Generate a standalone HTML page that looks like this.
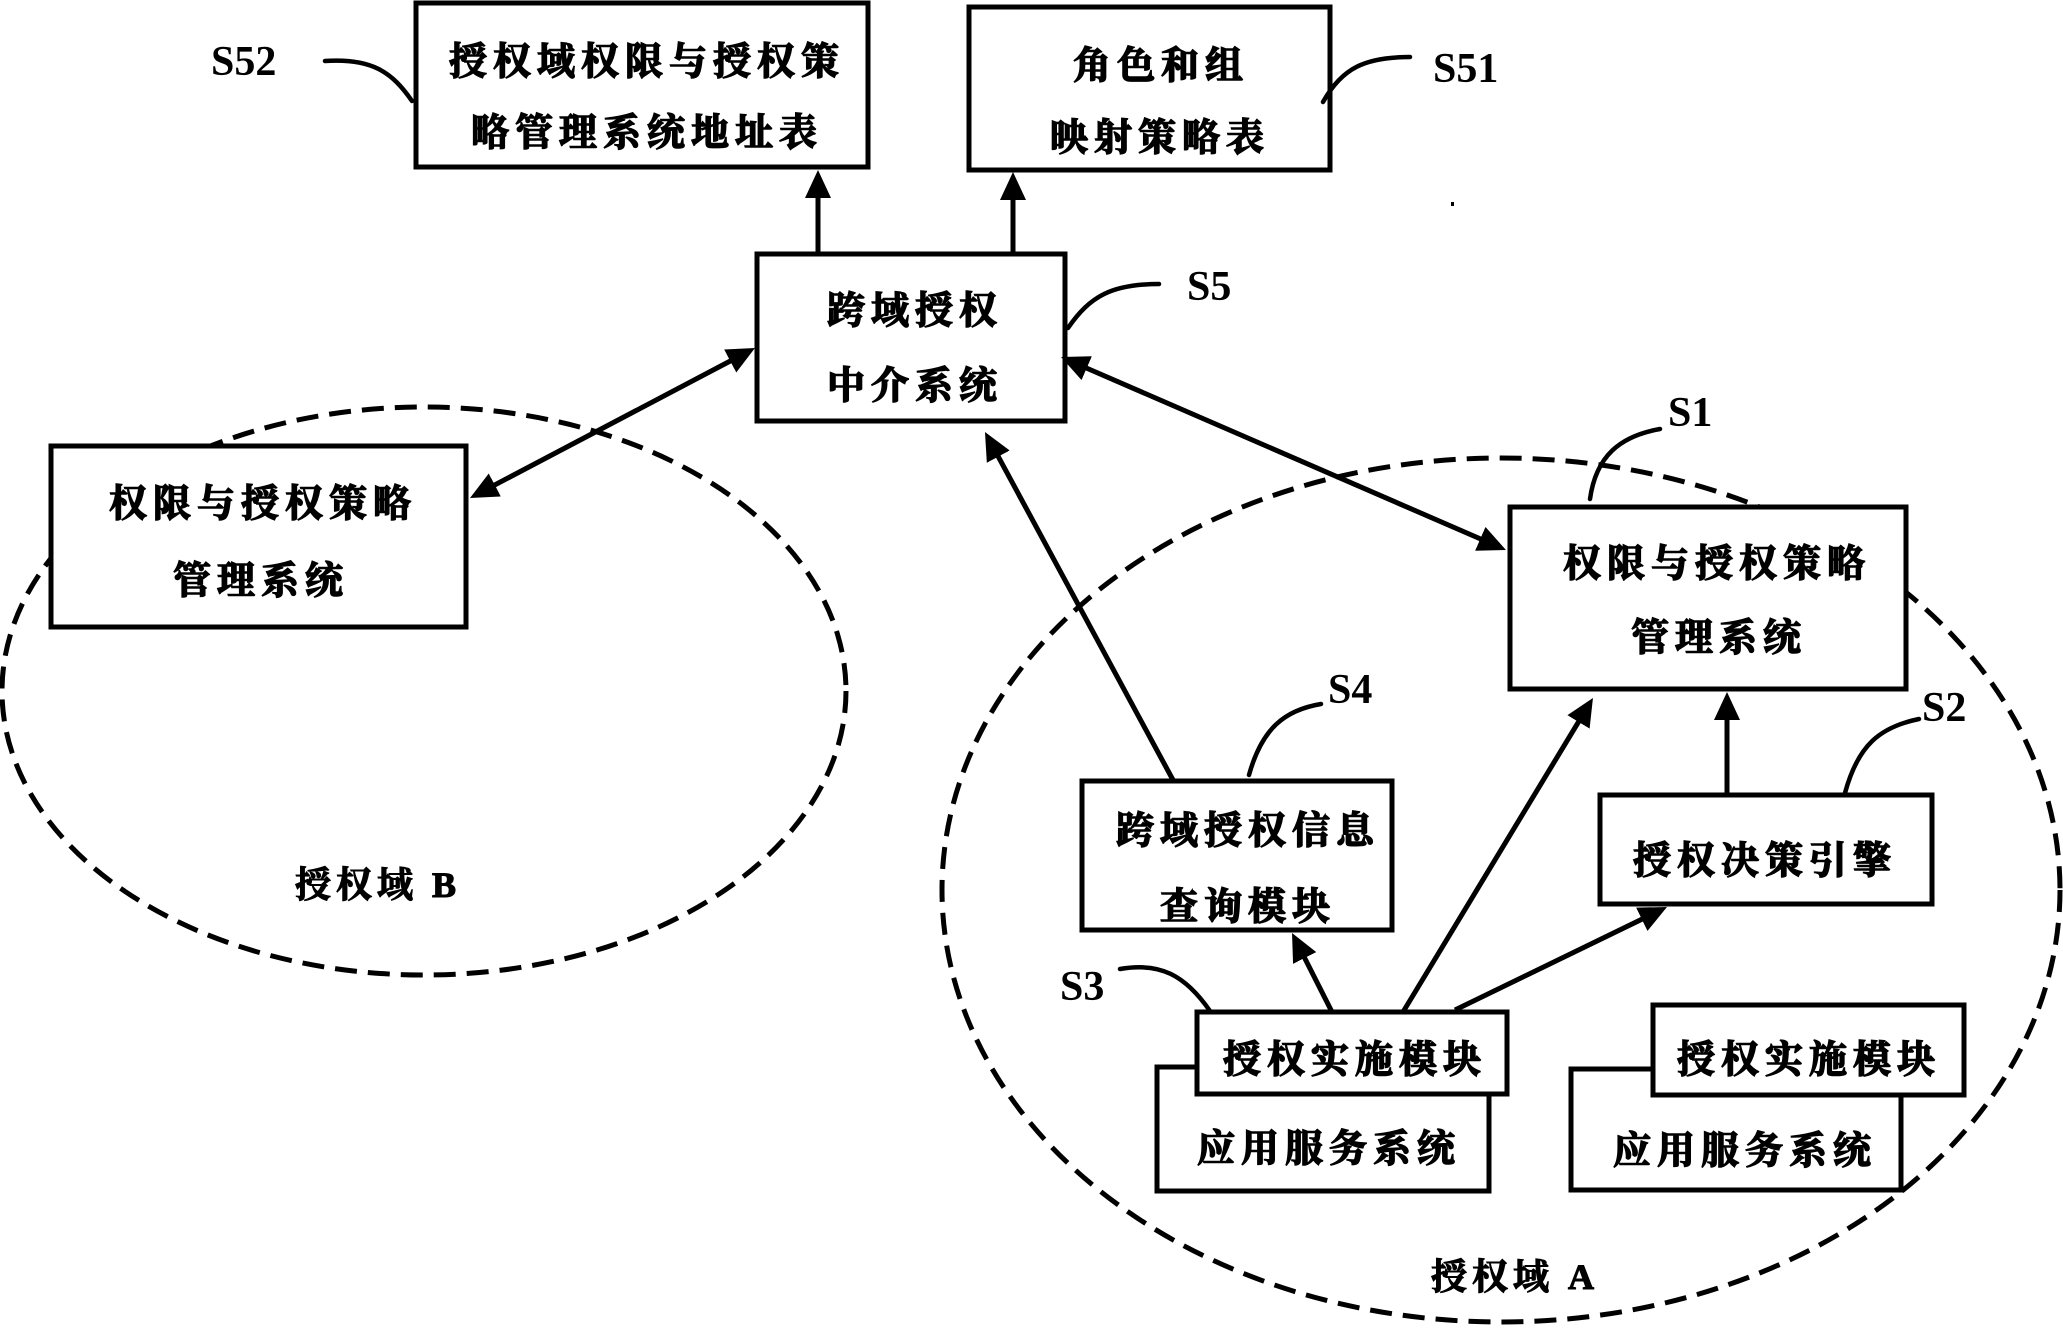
<!DOCTYPE html>
<html>
<head>
<meta charset="utf-8">
<style>
  html, body { margin: 0; padding: 0; background: #ffffff; }
  body { width: 2063px; height: 1328px; overflow: hidden; }
  svg { display: block; }
  .box { fill: #ffffff; stroke: #000; stroke-width: 5; }
  .ell { fill: none; stroke: #000; stroke-width: 5; stroke-dasharray: 22 11; }
  .ln { stroke: #000; stroke-width: 5; fill: none; }
  .ld { stroke: #000; stroke-width: 4.5; fill: none; stroke-linecap: round; }
  .t { font-family: "Noto Serif CJK SC", "Noto Sans CJK SC", serif; font-weight: bold; font-size: 38px; letter-spacing: 6px; fill: #000; stroke: #000; stroke-width: 1.4px; text-anchor: middle; dominant-baseline: central; }
  .lab { font-family: "Liberation Serif", serif; font-weight: bold; font-size: 42px; fill: #000; }
  .dom { font-family: "Liberation Serif", "Noto Serif CJK SC", serif; font-weight: bold; font-size: 36px; letter-spacing: 5px; fill: #000; stroke: #000; stroke-width: 1.1px; dominant-baseline: central; }
</style>
</head>
<body>
<svg width="2063" height="1328" viewBox="0 0 2063 1328" xmlns="http://www.w3.org/2000/svg">
  <defs>
    <marker id="ah" markerUnits="userSpaceOnUse" markerWidth="30" markerHeight="28" refX="13" refY="13" orient="auto-start-reverse">
      <path d="M0,0 L28,13 L0,26 Z" fill="#000"/>
    </marker>
  </defs>

  <!-- domain ellipses -->
  <ellipse class="ell" cx="424" cy="691" rx="422" ry="284"/>
  <ellipse class="ell" cx="1501" cy="890" rx="559" ry="432"/>

  <!-- boxes -->
  <rect class="box" x="416" y="3" width="452" height="164"/>
  <rect class="box" x="969" y="7" width="361" height="163"/>
  <rect class="box" x="757" y="254" width="308" height="167"/>
  <rect class="box" x="51" y="446" width="415" height="181"/>
  <rect class="box" x="1510" y="507" width="396" height="182"/>
  <rect class="box" x="1082" y="781" width="310" height="149"/>
  <rect class="box" x="1600" y="795" width="332" height="109"/>
  <rect class="box" x="1157" y="1067" width="332" height="124"/>
  <rect class="box" x="1197" y="1012" width="310" height="82"/>
  <rect class="box" x="1571" y="1069" width="330" height="121"/>
  <rect class="box" x="1653" y="1005" width="311" height="90"/>

  <!-- arrows -->
  <line class="ln" x1="818" y1="254" x2="818" y2="185" marker-end="url(#ah)"/>
  <line class="ln" x1="1013" y1="254" x2="1013" y2="187" marker-end="url(#ah)"/>
  <line class="ln" x1="483.3" y1="491.0" x2="741.7" y2="355.0" marker-start="url(#ah)" marker-end="url(#ah)"/>
  <line class="ln" x1="1074.8" y1="363.0" x2="1492.2" y2="544.0" marker-start="url(#ah)" marker-end="url(#ah)"/>
  <line class="ln" x1="1173" y1="780" x2="992.1" y2="445.2" marker-end="url(#ah)"/>
  <line class="ln" x1="1332" y1="1012" x2="1298.8" y2="946.4" marker-end="url(#ah)"/>
  <line class="ln" x1="1403" y1="1012" x2="1585.2" y2="710.8" marker-end="url(#ah)"/>
  <line class="ln" x1="1455" y1="1010" x2="1653.5" y2="913.6" marker-end="url(#ah)"/>
  <line class="ln" x1="1727" y1="795" x2="1727" y2="707" marker-end="url(#ah)"/>

  <!-- leader curves -->
  <path class="ld" d="M325,61 C372,58 392,72 412,101"/>
  <path class="ld" d="M1323,102 C1342,68 1365,57 1410,57"/>
  <path class="ld" d="M1068,328 C1090,296 1112,284 1159,284"/>
  <path class="ld" d="M1590,499 C1596,456 1620,436 1660,429"/>
  <path class="ld" d="M1249,775 C1262,728 1285,710 1321,704"/>
  <path class="ld" d="M1845,793 C1858,745 1880,727 1919,719"/>
  <path class="ld" d="M1120,969 C1160,962 1185,975 1210,1011"/>

  <!-- box text -->
  <text class="t" x="647" y="58">授权域权限与授权策</text>
  <text class="t" x="647" y="129">略管理系统地址表</text>

  <text class="t" x="1161" y="62">角色和组</text>
  <text class="t" x="1160" y="134">映射策略表</text>

  <text class="t" x="915" y="307">跨域授权</text>
  <text class="t" x="915" y="382">中介系统</text>

  <text class="t" x="263" y="500">权限与授权策略</text>
  <text class="t" x="261" y="577">管理系统</text>

  <text class="t" x="1717" y="560">权限与授权策略</text>
  <text class="t" x="1719" y="634">管理系统</text>

  <text class="t" x="1248" y="827">跨域授权信息</text>
  <text class="t" x="1248" y="903">查询模块</text>

  <text class="t" x="1765" y="857">授权决策引擎</text>

  <text class="t" x="1355" y="1056">授权实施模块</text>
  <text class="t" x="1329" y="1145">应用服务系统</text>

  <text class="t" x="1809" y="1056">授权实施模块</text>
  <text class="t" x="1745" y="1147">应用服务系统</text>

  <!-- domain labels -->
  <text class="dom" x="1431" y="1277">授权域 A</text>
  <text class="dom" x="295" y="885">授权域 B</text>

  <!-- reference labels -->
  <text class="lab" x="211" y="75">S52</text>
  <text class="lab" x="1433" y="82">S51</text>
  <text class="lab" x="1187" y="300">S5</text>
  <text class="lab" x="1668" y="426">S1</text>
  <text class="lab" x="1328" y="703">S4</text>
  <text class="lab" x="1922" y="721">S2</text>
  <text class="lab" x="1060" y="1000">S3</text>

  <!-- small speck -->
  <rect x="1451" y="202" width="3" height="4" fill="#000"/>
</svg>
</body>
</html>
